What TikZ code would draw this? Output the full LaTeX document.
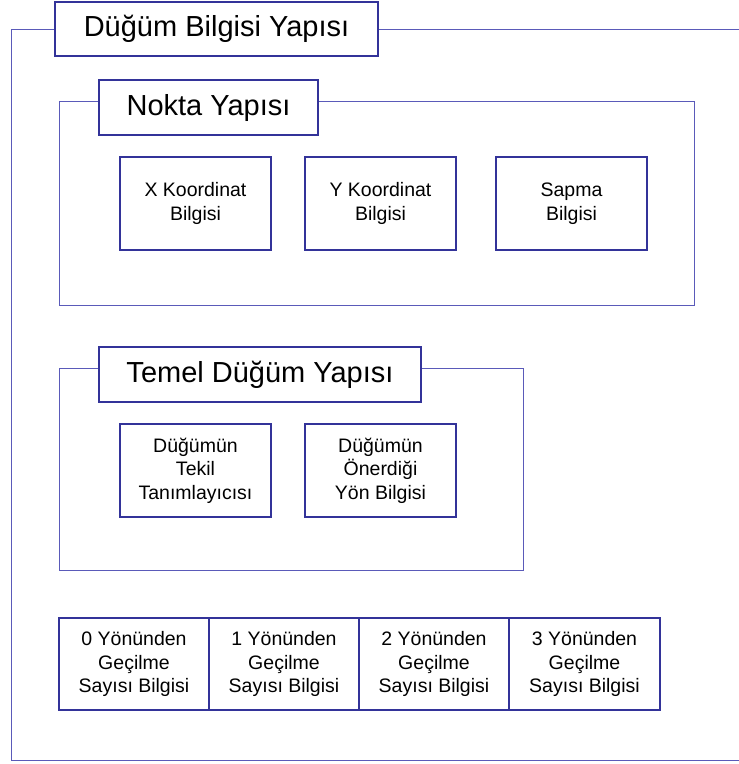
\documentclass[tikz,border=0pt]{standalone}
\usepackage{fontspec}
\setmainfont{Liberation Sans}
\usetikzlibrary{positioning}
\definecolor{boxblue}{RGB}{51,51,153}
\definecolor{frameblue}{RGB}{90,90,185}

\begin{document}
\begin{tikzpicture}[x=1pt, y=-1pt,
          frame/.style={draw=frameblue, line width=1pt, anchor=north west,
                        inner sep=0pt, outer sep=0pt},
          titlebox/.style={draw=boxblue, line width=1.6pt, fill=white,
                           anchor=north west, inner sep=0pt, outer sep=0pt,
                           font=\fontsize{29}{34}\selectfont},
          infobox/.style={draw=boxblue, line width=1.6pt, fill=white,
                          align=center, inner sep=0pt, outer sep=0pt,
                          minimum width=151pt, minimum height=93pt,
                          font=\fontsize{19.5}{23.5}\selectfont}]
        \useasboundingbox (0,0) rectangle (739,764);
        % outer frame, open to the right
        \draw[frameblue, line width=1pt] (745,29) -| (11,760) -- (745,760);
        \node[titlebox, minimum width=323pt, minimum height=54pt] (dugum) at (55,2) {Düğüm Bilgisi Yapısı};
        % nokta
        \node[frame, minimum width=635pt, minimum height=204pt] (noktaframe) at (59,101) {};
        \node[titlebox, minimum width=219pt, minimum height=55pt] (nokta) at (99,80) {Nokta Yapısı};
        \node[infobox, anchor=north west] (xkoord) at (120,157) {X Koordinat\\Bilgisi};
        \node[infobox, right=34pt of xkoord] (ykoord) {Y Koordinat\\Bilgisi};
        \node[infobox, right=40pt of ykoord] (sapma) {Sapma\\Bilgisi};
        % temel
        \node[frame, minimum width=464pt, minimum height=202pt] (temelframe) at (59,368) {};
        \node[titlebox, minimum width=322pt, minimum height=55pt] (temel) at (99,347) {Temel Düğüm Yapısı};
        \node[infobox, anchor=north west] (tekil) at (120,424) {Düğümün\\Tekil\\Tanımlayıcısı};
        \node[infobox, right=34pt of tekil] (yon) {Düğümün\\Önerdiği\\Yön Bilgisi};
        % gecilme sayilari
        \node[infobox, anchor=north west, minimum width=150pt, minimum height=92pt] (gec0) at (59,618) {0 Yönünden\\Geçilme\\Sayısı Bilgisi};
        \node[infobox, right=0pt of gec0, minimum width=150pt, minimum height=92pt] (gec1) {1 Yönünden\\Geçilme\\Sayısı Bilgisi};
        \node[infobox, right=0pt of gec1, minimum width=150pt, minimum height=92pt] (gec2) {2 Yönünden\\Geçilme\\Sayısı Bilgisi};
        \node[infobox, right=0pt of gec2, minimum width=151pt, minimum height=92pt] (gec3) {3 Yönünden\\Geçilme\\Sayısı Bilgisi};
      \end{tikzpicture}
\end{document}
